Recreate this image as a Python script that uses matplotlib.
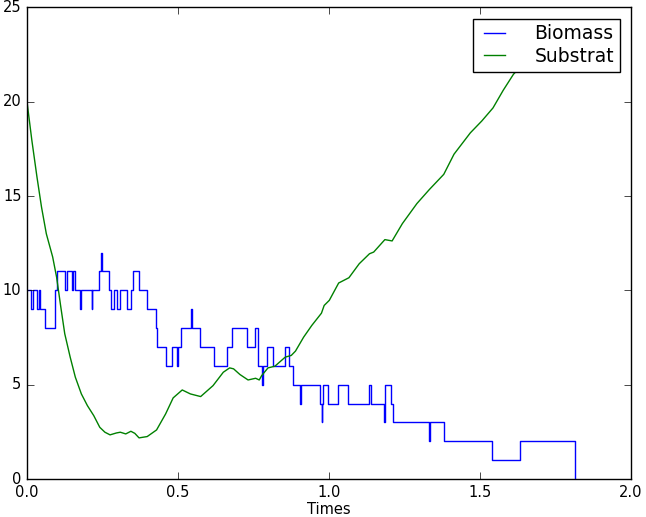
import matplotlib
matplotlib.use('Agg')
import matplotlib.pyplot as plt

# biomass: stochastic step trajectory (time of change, new value)
bio_t = [0.0, 0.0136, 0.0204, 0.034, 0.040, 0.042, 0.0586, 0.0913, 0.0995,
         0.1254, 0.1322, 0.1486, 0.1527, 0.1595, 0.1745, 0.1772, 0.2140, 0.2168,
         0.2372, 0.2440, 0.2481, 0.2713, 0.2795, 0.2890, 0.2986, 0.3067, 0.3299,
         0.3449, 0.3504, 0.3708, 0.3981, 0.4267, 0.4294, 0.4594, 0.4813, 0.4976,
         0.5003, 0.5112, 0.5440, 0.5467, 0.5740, 0.6176, 0.6626, 0.6803,
         0.727, 0.755, 0.766, 0.777, 0.783, 0.794, 0.816, 0.854, 0.869,
         0.882, 0.9025, 0.907, 0.970, 0.9755, 0.978, 0.981, 0.998, 1.031, 1.064,
         1.132, 1.139, 1.182, 1.185, 1.204, 1.211, 1.331, 1.334, 1.3824,
         1.5405, 1.6319, 1.8155]
bio_v = [10, 9, 10, 9, 10, 9, 8, 10, 11,
         10, 11, 10, 11, 10, 9, 10, 9, 10,
         11, 12, 11, 10, 9, 10, 9, 10, 9,
         10, 11, 10, 9, 8, 7, 6, 7, 6,
         7, 8, 9, 8, 7, 6, 7, 8,
         7, 8, 6, 5, 6, 7, 6, 7, 6,
         5, 4, 5, 4, 3, 4, 5, 4, 5, 4,
         5, 4, 3, 5, 4, 3, 2, 3, 2,
         1, 2, 0]

# substrate concentration
sub_t = [0.0, 0.016, 0.033, 0.048, 0.064, 0.085, 0.098, 0.112, 0.125, 0.143,
         0.160, 0.180, 0.200, 0.221, 0.241, 0.258, 0.275, 0.296, 0.309, 0.327,
         0.344, 0.357, 0.371, 0.398, 0.429, 0.459, 0.484, 0.514, 0.541, 0.575,
         0.616, 0.650, 0.671, 0.684, 0.705, 0.732, 0.757, 0.769, 0.777, 0.798,
         0.821, 0.855, 0.875, 0.889, 0.916, 0.943, 0.975, 0.984, 1.001, 1.032,
         1.066, 1.100, 1.134, 1.148, 1.185, 1.209, 1.243, 1.291, 1.332, 1.380,
         1.414, 1.468, 1.506, 1.543, 1.577, 1.611, 1.680, 1.750, 1.816]
sub_v = [20.0, 17.96, 16.01, 14.42, 13.0, 11.77, 10.70, 9.11, 7.70, 6.46,
         5.40, 4.51, 3.89, 3.36, 2.74, 2.48, 2.34, 2.44, 2.48, 2.39,
         2.53, 2.42, 2.18, 2.25, 2.60, 3.45, 4.30, 4.72, 4.51, 4.37,
         4.95, 5.66, 5.89, 5.84, 5.54, 5.25, 5.34, 5.25, 5.48, 5.89,
         5.98, 6.46, 6.55, 6.78, 7.52, 8.14, 8.79, 9.20, 9.47, 10.39,
         10.67, 11.41, 11.94, 12.03, 12.69, 12.62, 13.54, 14.60, 15.34, 16.15,
         17.22, 18.35, 18.98, 19.67, 20.61, 21.46, 22.6, 23.5, 24.2]

plt.style.use('classic')
plt.rcParams['font.family'] = 'DejaVu Sans'

fig = plt.figure(figsize=(6.46, 5.17), dpi=100, facecolor='white')
ax = fig.add_axes([27 / 646, 38 / 517, 604 / 646, 471.6 / 517])
ax.set_facecolor('white')

ax.step(bio_t, bio_v, where='post', color='b', lw=1, label='Biomass')
ax.plot(sub_t, sub_v, color='g', lw=1, label='Substrat')

ax.set_xlim(0, 2.0)
ax.set_ylim(0, 25)
ax.set_xticks([0.0, 0.5, 1.0, 1.5, 2.0])
ax.set_yticks([0, 5, 10, 15, 20, 25])
ax.tick_params(labelsize=10.5, direction='in', length=5, top=True, right=True, pad=4)
ax.set_xlabel('Times', fontsize=10.5, labelpad=2)

leg = ax.legend(loc='upper right', fontsize=13.5, handlelength=1.7, handletextpad=1.3,
                borderpad=0.3, labelspacing=0.2, borderaxespad=0.6,
                fancybox=False, frameon=True)
leg.get_frame().set_edgecolor('black')

fig.savefig('out.png', dpi=100, facecolor='white')
